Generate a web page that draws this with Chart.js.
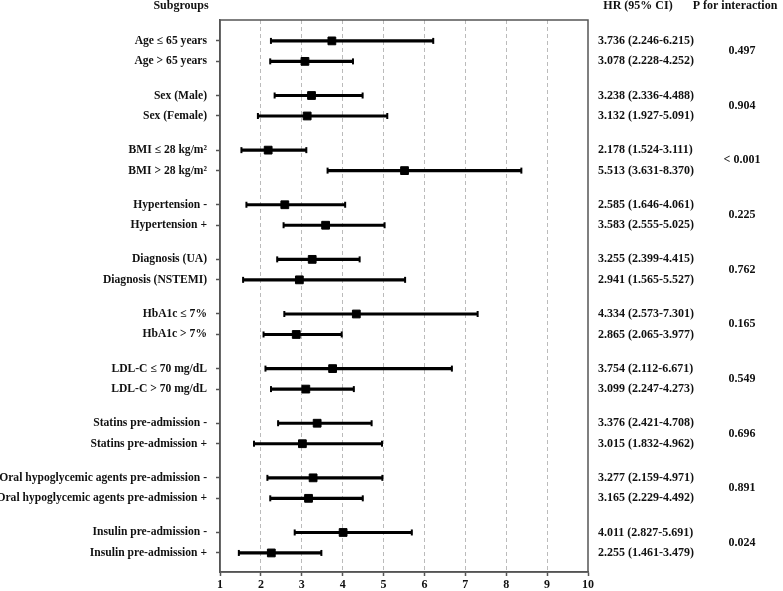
<!DOCTYPE html>
<html>
<head>
<meta charset="utf-8">
<script src="https://cdn.jsdelivr.net/npm/chart.js@4"></script>
<style>
  html, body { margin: 0; padding: 0; background: #fff; }
  #wrap { width: 783px; height: 591px; position: relative; }
</style>
</head>
<body>
<div id="wrap"><canvas id="chart"></canvas></div>
<script>
const chart = document.querySelector("#chart").getContext("2d");

const labels = [
  "Age \u2264 65 years", "Age > 65 years",
  "Sex (Male)", "Sex (Female)",
  "BMI \u2264 28 kg/m\u00B2", "BMI > 28 kg/m\u00B2",
  "Hypertension -", "Hypertension +",
  "Diagnosis (UA)", "Diagnosis (NSTEMI)",
  "HbA1c \u2264 7%", "HbA1c > 7%",
  "LDL-C \u2264 70 mg/dL", "LDL-C > 70 mg/dL",
  "Statins pre-admission -", "Statins pre-admission +",
  "Oral hypoglycemic agents pre-admission -", "Oral hypoglycemic agents pre-admission +",
  "Insulin pre-admission -", "Insulin pre-admission +",
];
const hr = [3.736, 3.078, 3.238, 3.132, 2.178, 5.513, 2.585, 3.583, 3.255, 2.941,
            4.334, 2.865, 3.754, 3.099, 3.376, 3.015, 3.277, 3.165, 4.011, 2.255];
const lower = [2.246, 2.228, 2.336, 1.927, 1.524, 3.631, 1.646, 2.555, 2.399, 1.565,
               2.573, 2.065, 2.112, 2.247, 2.421, 1.832, 2.159, 2.229, 2.827, 1.461];
const upper = [6.215, 4.252, 4.488, 5.091, 3.111, 8.370, 4.061, 5.025, 4.415, 5.527,
               7.301, 3.977, 6.671, 4.273, 4.708, 4.962, 4.971, 4.492, 5.691, 3.479];
const pInteraction = ["0.497", "0.904", "< 0.001", "0.225", "0.762", "0.165", "0.549", "0.696", "0.891", "0.024"];
const xTicks = [1, 2, 3, 4, 5, 6, 7, 8, 9, 10];

// rows come in pairs, with a gap between groups
const pos = labels.map((_, i) => Math.floor(i / 2) * 8 / 3 + (i % 2));

const FONT = "'Liberation Serif', 'Times New Roman', serif";
const fmt = (v) => v.toFixed(3);

const textPlugin = {
  id: "forestText",
  afterDraw(c) {
    const ctx = c.ctx;
    const area = c.chartArea;
    const y = c.scales.y;
    ctx.save();
    // box round the plot
    ctx.strokeStyle = "#555";
    ctx.lineWidth = 1.5;
    ctx.strokeRect(area.left, area.top, area.right - area.left, area.bottom - area.top);

    ctx.fillStyle = "#111";
    ctx.font = "bold 12px " + FONT;
    ctx.textBaseline = "middle";
    // headers
    ctx.textAlign = "center";
    ctx.fillText("Subgroups", 181, 6);
    ctx.fillText("HR (95% CI)", 638, 6);
    ctx.fillText("P for interaction", 735, 6);
    // HR column
    ctx.textAlign = "left";
    labels.forEach((_, i) => {
      const text = fmt(hr[i]) + " (" + fmt(lower[i]) + "-" + fmt(upper[i]) + ")";
      ctx.fillText(text, 598, y.getPixelForValue(pos[i]));
    });
    // P values, centred on each pair
    ctx.textAlign = "center";
    pInteraction.forEach((p, g) => {
      const py = (y.getPixelForValue(pos[2 * g]) + y.getPixelForValue(pos[2 * g + 1])) / 2;
      ctx.fillText(p, 742, py);
    });
    ctx.restore();
  },
};

const data = {
  datasets: [
    {
      type: "bar",
      data: labels.map((_, i) => ({ x: [lower[i], upper[i]], y: pos[i] })),
      backgroundColor: "#000",
      barThickness: 2.5,
      order: 3,
    },
    {
      type: "scatter",
      data: labels.flatMap((_, i) => [{ x: lower[i], y: pos[i] }, { x: upper[i], y: pos[i] }]),
      pointStyle: "line",
      rotation: 90,
      radius: 3,
      borderWidth: 2,
      borderColor: "#000",
      order: 2,
    },
    {
      type: "scatter",
      data: labels.map((_, i) => ({ x: hr[i], y: pos[i] })),
      pointStyle: "rect",
      radius: 5.5,
      backgroundColor: "#000",
      borderColor: "#000",
      borderWidth: 1,
      order: 1,
    },
  ],
};

const config = {
  type: "bar",
  data: data,
  options: {
    indexAxis: "y",
    responsive: true,
    maintainAspectRatio: false,
    animation: false,
    layout: { padding: { left: 0, right: 195, top: 20, bottom: 0 } },
    plugins: { legend: { display: false }, tooltip: { enabled: false } },
    scales: {
      x: {
        type: "linear",
        min: 1,
        max: 10,
        afterBuildTicks: (scale) => {
          scale.ticks = xTicks.map((v) => ({ value: v }));
        },
        afterFit: (scale) => {
          scale.height = 19;
        },
        ticks: {
          padding: 2,
          color: "#111",
          font: { family: FONT, weight: "bold", size: 12 },
        },
        grid: {
          color: (ctx) => (ctx.tick && (ctx.tick.value === 1 || ctx.tick.value === 10) ? "rgba(0,0,0,0)" : "#bbb"),
          lineWidth: 1,
          tickLength: 4,
          tickColor: "#555",
          tickWidth: 1.5,
        },
        border: { color: "#555", width: 1.5, dash: [4, 3] },
      },
      y: {
        type: "linear",
        reverse: true,
        offset: false,
        min: -1.02,
        max: 25.93,
        afterBuildTicks: (scale) => {
          scale.ticks = pos.map((v) => ({ value: v }));
        },
        afterFit: (scale) => {
          scale.width = 220;
        },
        ticks: {
          autoSkip: false,
          padding: 9,
          color: "#111",
          font: { family: FONT, weight: "bold", size: 11.6 },
          callback: (value, index) => labels[index],
        },
        grid: {
          offset: false,
          drawOnChartArea: false,
          tickLength: 4,
          tickColor: "#555",
          tickWidth: 1.5,
        },
        border: { color: "#555", width: 1.5 },
      },
    },
  },
  plugins: [textPlugin],
};

const myChart = new Chart(chart, config);
</script>
</body>
</html>
